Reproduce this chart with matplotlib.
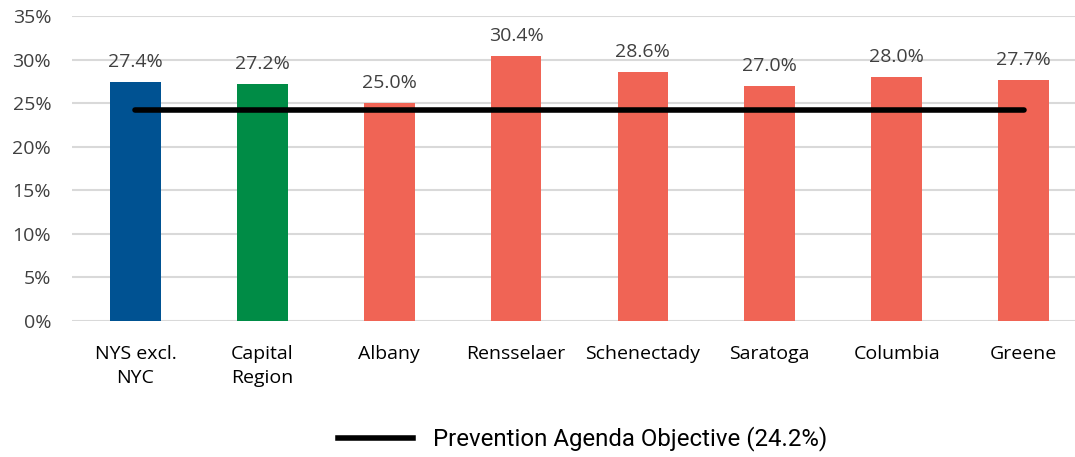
import matplotlib.pyplot as plt
from matplotlib.lines import Line2D

# chart data
categories = ["NYS excl.\nNYC", "Capital\nRegion", "Albany", "Rensselaer",
              "Schenectady", "Saratoga", "Columbia", "Greene"]
rates = [27.4, 27.2, 25.0, 30.4, 28.6, 27.0, 28.0, 27.7]
objective = [24.2, 24.2, 24.2, 24.2, 24.2, 24.2, 24.2, 24.2]
bar_colors = ["#005292", "#008C46", "#F06455", "#F06455",
              "#F06455", "#F06455", "#F06455", "#F06455"]
yticks = [0, 5, 10, 15, 20, 25, 30, 35]

plt.rcParams['font.family'] = ['Open Sans', 'DejaVu Sans']

fig = plt.figure(figsize=(10.75, 4.57), dpi=100)
ax = fig.add_axes([72 / 1075, 136 / 457, 1015 / 1075, 305 / 457])

x = list(range(len(categories)))
ax.bar(x, rates, width=0.4, color=bar_colors, zorder=2)
ax.plot(x, objective, color="black", lw=4, solid_capstyle="round", zorder=3)

for xi, v in zip(x, rates):
    ax.annotate(f"{v:.1f}%", (xi, v), xytext=(0, 8), textcoords="offset points",
                ha="center", va="bottom", fontsize=14, color="#404040")

ax.set_xlim(-0.5, len(categories) - 0.5)
ax.set_ylim(0, 35)
ax.set_yticks(yticks)
ax.set_yticklabels([f"{t}%" for t in yticks], fontsize=14, color="#404040")
ax.set_xticks(x)
ax.set_xticklabels(categories, fontsize=14, color="black", linespacing=1.45)
ax.tick_params(axis="x", length=0, pad=17)
ax.tick_params(axis="y", length=0, pad=15)
ax.grid(axis="y", color="#D9D9D9", lw=1.5, zorder=0)
for s in ax.spines.values():
    s.set_visible(False)

handle = Line2D([], [], color="black", lw=4)
fig.legend([handle], ["Prevention Agenda Objective (24.2%)"], loc="center",
           bbox_to_anchor=(583 / 1075, 1 - 439 / 457), frameon=False,
           handlelength=3.1, handletextpad=0.85,
           prop={"family": ["Roboto", "DejaVu Sans"], "size": 17.3})

fig.savefig("out.png", dpi=100)
